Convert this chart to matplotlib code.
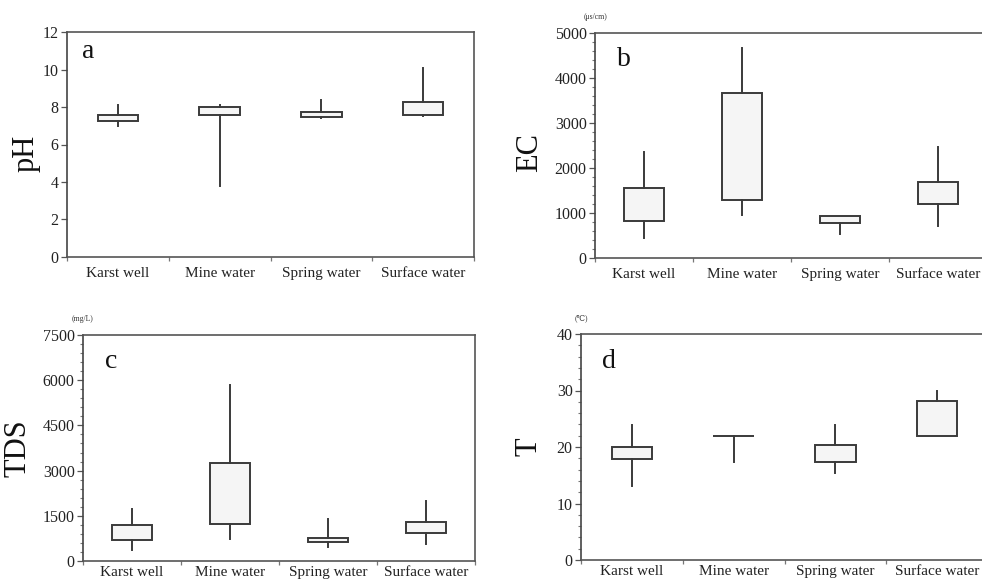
import matplotlib
matplotlib.use("Agg")
import matplotlib.pyplot as plt
from matplotlib.ticker import MultipleLocator, FixedLocator, NullFormatter

plt.rcParams["font.family"] = ["Liberation Serif", "DejaVu Serif", "DejaVu Sans"]

categories = ["Karst well", "Mine water", "Spring water", "Surface water"]

# Box summaries per water type: lower whisker, Q1, Q3, upper whisker
ph_low = [7.0, 3.8, 7.4, 7.5]
ph_q1 = [7.28, 7.55, 7.48, 7.6]
ph_q3 = [7.55, 8.02, 7.72, 8.27]
ph_high = [8.1, 8.1, 8.38, 10.1]

ec_low = [455, 965, 540, 720]
ec_q1 = [822, 1283, 780, 1207]
ec_q3 = [1565, 3674, 935, 1690]
ec_high = [2350, 4675, 935, 2467]

tds_low = [365, 740, 452, 562]
tds_q1 = [695, 1213, 628, 926]
tds_q3 = [1202, 3253, 750, 1290]
tds_high = [1730, 5835, 1400, 1996]

t_low = [13.1, 17.3, 15.45, 21.95]
t_q1 = [17.9, 21.95, 17.35, 21.95]
t_q3 = [19.95, 21.95, 20.35, 28.2]
t_high = [23.95, 21.95, 23.9, 29.85]

panels = [
    dict(letter="a", ylabel="pH", unit=None, data=(ph_low, ph_q1, ph_q3, ph_high),
         ylim=12, major=2, minor=None, xpad=7, label_y=0.46,
         rect=(67, 32, 407, 225), label_x=-0.066, letter_xy=(0.037, 0.884)),
    dict(letter="b", ylabel="EC", unit="(μs/cm)", data=(ec_low, ec_q1, ec_q3, ec_high),
         ylim=5000, major=1000, minor=200, xpad=7, label_y=0.47,
         rect=(595, 33, 392, 225), label_x=-0.130, letter_xy=(0.056, 0.853)),
    dict(letter="c", ylabel="TDS", unit="(mg/L)", data=(tds_low, tds_q1, tds_q3, tds_high),
         ylim=7500, major=1500, minor=300, xpad=3.5, label_y=0.5,
         rect=(83, 335, 392, 226), label_x=-0.128, letter_xy=(0.056, 0.853)),
    dict(letter="d", ylabel="T", unit="(℃)", data=(t_low, t_q1, t_q3, t_high),
         ylim=40, major=10, minor=2, xpad=3.5, label_y=0.5,
         rect=(581, 334, 407, 226), label_x=-0.093, letter_xy=(0.052, 0.85)),
]

W, H = 982, 584
fig = plt.figure(figsize=(W / 100, H / 100), dpi=100)

edge = "#3a3a3a"
spine_c = "#555555"

for p in panels:
    x0, y0, w, h = p["rect"]
    ax = fig.add_axes([x0 / W, 1 - (y0 + h) / H, w / W, h / H])
    low, q1, q3, high = p["data"]
    stats = []
    for i, name in enumerate(categories):
        stats.append(dict(whislo=low[i], q1=q1[i], med=q1[i], q3=q3[i],
                          whishi=high[i], label=name))
    ax.bxp(stats, positions=[1, 2, 3, 4], widths=0.4, showcaps=False,
           showfliers=False, patch_artist=True,
           boxprops=dict(facecolor="#f5f5f5", edgecolor=edge, linewidth=1.4),
           whiskerprops=dict(color=edge, linewidth=1.4),
           medianprops=dict(visible=False))

    ax.set_xlim(0.5, 4.5)
    ax.set_ylim(0, p["ylim"])
    ax.yaxis.set_major_locator(MultipleLocator(p["major"]))
    if p["minor"]:
        ax.yaxis.set_minor_locator(MultipleLocator(p["minor"]))
        ax.tick_params(axis="y", which="minor", length=2.5, width=0.8, color="#777777")
    ax.tick_params(axis="y", which="major", length=4, width=0.9, color="#555555",
                   labelsize=11.5, pad=2, labelcolor="#222222")

    ax.set_xticks([1, 2, 3, 4])
    ax.set_xticklabels(categories, fontsize=11, color="#222222")
    ax.xaxis.set_minor_locator(FixedLocator([0.5, 1.5, 2.5, 3.5, 4.5]))
    ax.xaxis.set_minor_formatter(NullFormatter())
    ax.tick_params(axis="x", which="major", length=0, pad=p["xpad"])
    ax.tick_params(axis="x", which="minor", length=3, width=0.9, color="#777777")

    for side, sp in ax.spines.items():
        sp.set_color(spine_c)
        sp.set_linewidth(1.2)
    ax.spines["left"].set_color("#444444")

    ax.set_ylabel(p["ylabel"], fontsize=22, color="#111111")
    ax.yaxis.set_label_coords(p["label_x"], p["label_y"])

    ax.text(p["letter_xy"][0], p["letter_xy"][1], p["letter"], transform=ax.transAxes,
            fontsize=20, va="baseline", ha="left", color="#111111")

    if p["unit"]:
        ax.text(0.0, 1.0 + 16 / h, p["unit"], transform=ax.transAxes,
                fontsize=5.5, ha="center", va="center", color="#333333")

fig.savefig("out.png", dpi=100)
